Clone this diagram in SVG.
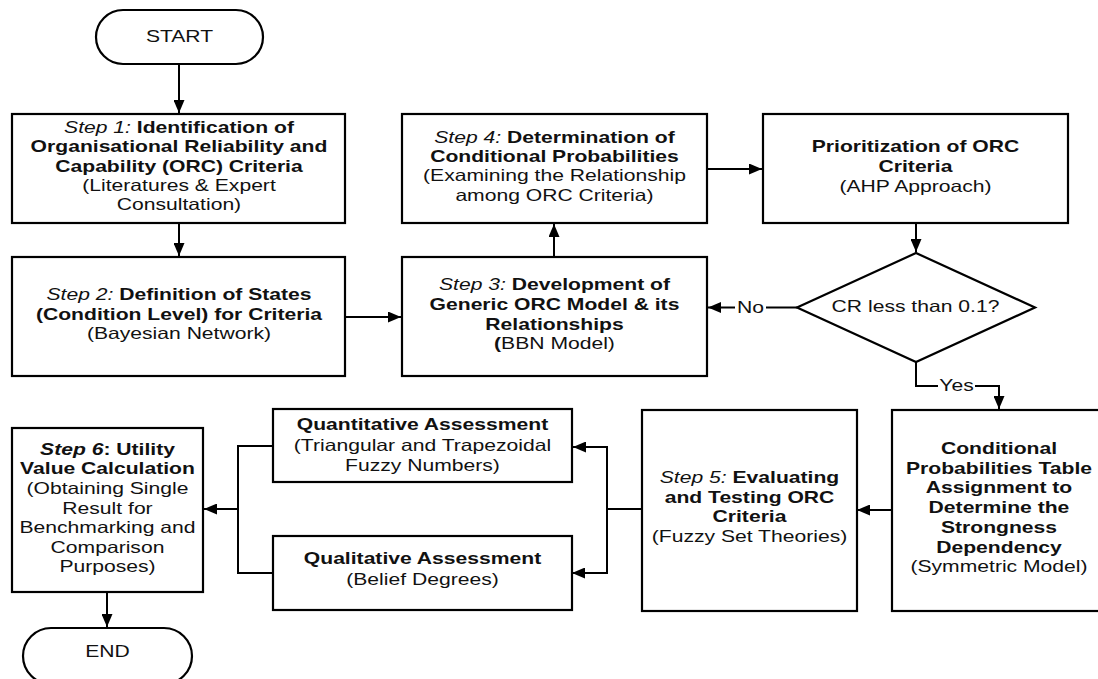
<svg xmlns="http://www.w3.org/2000/svg" width="1098" height="679" viewBox="0 0 1098 679">
<defs>
<style>
.box{fill:#fff;stroke:#000;stroke-width:2.2}
.c{fill:none;stroke:#000;stroke-width:2}
.t{font-family:"Liberation Sans",Arial,sans-serif;font-size:16.5px;fill:#111;text-anchor:middle}
.b{font-weight:bold}
.i{font-style:italic}
.lbl{fill:#fff}
</style>
<marker id="ah" markerUnits="userSpaceOnUse" markerWidth="13" markerHeight="11" refX="13" refY="5.5" orient="auto">
<path d="M0,0 L13,5.5 L0,11 z" fill="#000"/>
</marker>
</defs>
<rect width="1098" height="679" fill="#fff"/>

<g id="connectors">
<path class="c" d="M179 64 V113" marker-end="url(#ah)"/>
<path class="c" d="M179 223 V256" marker-end="url(#ah)"/>
<path class="c" d="M345 317 H401" marker-end="url(#ah)"/>
<path class="c" d="M554 257 V224" marker-end="url(#ah)"/>
<path class="c" d="M707 169 H762" marker-end="url(#ah)"/>
<path class="c" d="M916 223 V252" marker-end="url(#ah)"/>
<path class="c" d="M797 307.5 H708" marker-end="url(#ah)"/>
<path class="c" d="M916 362 V386 H999 V409" marker-end="url(#ah)"/>
<path class="c" d="M892 510 H857" marker-end="url(#ah)"/>
<path class="c" d="M642 509 H607"/>
<path class="c" d="M607 509 V447 H573" marker-end="url(#ah)"/>
<path class="c" d="M607 509 V573 H572" marker-end="url(#ah)"/>
<path class="c" d="M273 446 H238 V573 H273"/>
<path class="c" d="M238 509 H204" marker-end="url(#ah)"/>
<path class="c" d="M107 592 V627" marker-end="url(#ah)"/>
<rect class="lbl" x="735" y="298" width="31" height="18"/>
<g transform="translate(750.5 0) scale(1.28 1) translate(-750.5 0)"><text class="t" x="750.5" y="313">No</text></g>
<rect class="lbl" x="938" y="377" width="37" height="18"/>
<g transform="translate(956.5 0) scale(1.28 1) translate(-956.5 0)"><text class="t" x="956.5" y="391.5">Yes</text></g>
</g>

<g id="start">
<rect class="box" x="96" y="10" width="167" height="54" rx="27"/>
<g transform="translate(179.5 0) scale(1.28 1) translate(-179.5 0)">
<text class="t" x="179.5" y="42.5">START</text>
</g>
</g>

<g id="step1">
<rect class="box" x="12" y="114" width="333" height="109"/>
<g transform="translate(179 0) scale(1.28 1) translate(-179 0)">
<text class="t" x="179" y="133"><tspan class="i">Step 1:</tspan><tspan class="b"> Identification of</tspan></text>
<text class="t b" x="179" y="152.5">Organisational Reliability and</text>
<text class="t b" x="179" y="172">Capability (ORC) Criteria</text>
<text class="t" x="179" y="191.5">(Literatures &amp; Expert</text>
<text class="t" x="179" y="210.5">Consultation)</text>
</g>
</g>

<g id="step2">
<rect class="box" x="12" y="257" width="333" height="119"/>
<g transform="translate(179 0) scale(1.28 1) translate(-179 0)">
<text class="t" x="179" y="300.5"><tspan class="i">Step 2:</tspan><tspan class="b"> Definition of States</tspan></text>
<text class="t b" x="179" y="320.5">(Condition Level) for Criteria</text>
<text class="t" x="179" y="339.5">(Bayesian Network)</text>
</g>
</g>

<g id="step3">
<rect class="box" x="402" y="257" width="305" height="119"/>
<g transform="translate(554.5 0) scale(1.28 1) translate(-554.5 0)">
<text class="t" x="554.5" y="290.5"><tspan class="i">Step 3:</tspan><tspan class="b"> Development of</tspan></text>
<text class="t b" x="554.5" y="310.5">Generic ORC Model &amp; its</text>
<text class="t b" x="554.5" y="330.5">Relationships</text>
<text class="t" x="554.5" y="349.5"><tspan class="b">(</tspan>BBN Model)</text>
</g>
</g>

<g id="step4">
<rect class="box" x="402" y="114" width="305" height="109"/>
<g transform="translate(554.5 0) scale(1.28 1) translate(-554.5 0)">
<text class="t" x="554.5" y="143"><tspan class="i">Step 4:</tspan><tspan class="b"> Determination of</tspan></text>
<text class="t b" x="554.5" y="162">Conditional Probabilities</text>
<text class="t" x="554.5" y="181.5">(Examining the Relationship</text>
<text class="t" x="554.5" y="201.5">among ORC Criteria)</text>
</g>
</g>

<g id="prioritization">
<rect class="box" x="763" y="114" width="305" height="109"/>
<g transform="translate(915.5 0) scale(1.28 1) translate(-915.5 0)">
<text class="t b" x="915.5" y="152">Prioritization of ORC</text>
<text class="t b" x="915.5" y="172">Criteria</text>
<text class="t" x="915.5" y="192">(AHP Approach)</text>
</g>
</g>

<g id="decision">
<polygon class="box" points="797,307.5 916,253 1035,307.5 916,362"/>
<g transform="translate(915.5 0) scale(1.28 1) translate(-915.5 0)">
<text class="t" x="915.5" y="312">CR less than 0.1?</text>
</g>
</g>

<g id="cpt">
<rect class="box" x="892" y="410" width="214" height="201"/>
<g transform="translate(999 0) scale(1.28 1) translate(-999 0)">
<text class="t b" x="999" y="454.5">Conditional</text>
<text class="t b" x="999" y="474.5">Probabilities Table</text>
<text class="t b" x="999" y="493.5">Assignment to</text>
<text class="t b" x="999" y="513.5">Determine the</text>
<text class="t b" x="999" y="533.5">Strongness</text>
<text class="t b" x="999" y="553.5">Dependency</text>
<text class="t" x="999" y="572.5">(Symmetric Model)</text>
</g>
</g>

<g id="step5">
<rect class="box" x="642" y="410" width="215" height="201"/>
<g transform="translate(749.5 0) scale(1.28 1) translate(-749.5 0)">
<text class="t" x="749.5" y="483.5"><tspan class="i">Step 5:</tspan><tspan class="b"> Evaluating</tspan></text>
<text class="t b" x="749.5" y="503.5">and Testing ORC</text>
<text class="t b" x="749.5" y="522.5">Criteria</text>
<text class="t" x="749.5" y="542.5">(Fuzzy Set Theories)</text>
</g>
</g>

<g id="quantitative">
<rect class="box" x="273" y="409" width="299" height="73"/>
<g transform="translate(422.5 0) scale(1.28 1) translate(-422.5 0)">
<text class="t b" x="422.5" y="430.5">Quantitative Assessment</text>
<text class="t" x="422.5" y="451">(Triangular and Trapezoidal</text>
<text class="t" x="422.5" y="471">Fuzzy Numbers)</text>
</g>
</g>

<g id="qualitative">
<rect class="box" x="273" y="536" width="299" height="74"/>
<g transform="translate(422.5 0) scale(1.28 1) translate(-422.5 0)">
<text class="t b" x="422.5" y="564.5">Qualitative Assessment</text>
<text class="t" x="422.5" y="585">(Belief Degrees)</text>
</g>
</g>

<g id="step6">
<rect class="box" x="12" y="428" width="191" height="164"/>
<g transform="translate(107.5 0) scale(1.28 1) translate(-107.5 0)">
<text class="t b" x="107.5" y="455.5"><tspan class="i">Step 6</tspan>: Utility</text>
<text class="t b" x="107.5" y="474.5">Value Calculation</text>
<text class="t" x="107.5" y="494.5">(Obtaining Single</text>
<text class="t" x="107.5" y="514.5">Result for</text>
<text class="t" x="107.5" y="533.5">Benchmarking and</text>
<text class="t" x="107.5" y="553.5">Comparison</text>
<text class="t" x="107.5" y="572.5">Purposes)</text>
</g>
</g>

<g id="end">
<rect class="box" x="23" y="628" width="169" height="56" rx="28"/>
<g transform="translate(107.5 0) scale(1.28 1) translate(-107.5 0)">
<text class="t" x="107.5" y="657.5">END</text>
</g>
</g>
</svg>
